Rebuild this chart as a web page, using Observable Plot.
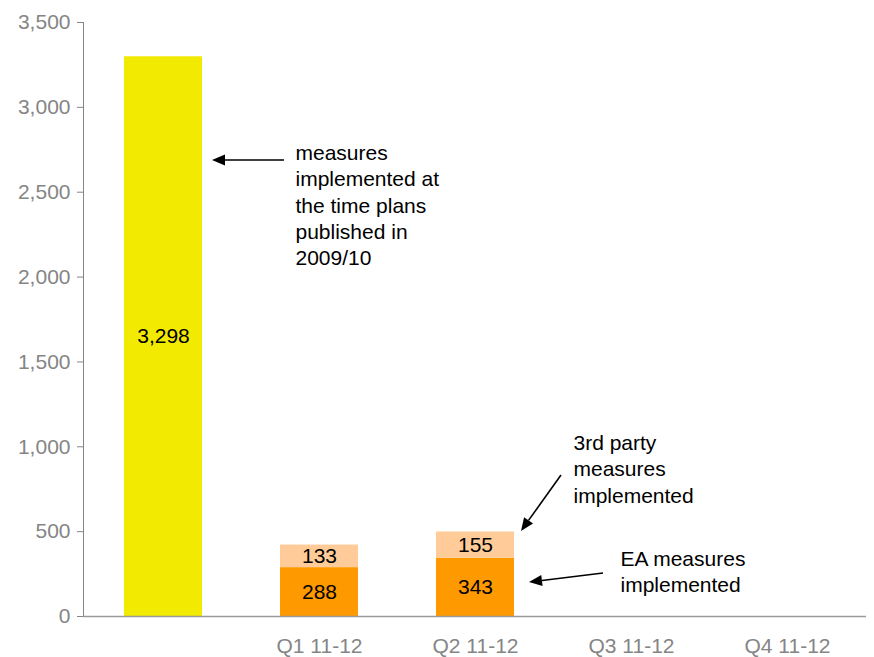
<!DOCTYPE html>
<html>
<head>
<meta charset="utf-8">
<script src="https://cdn.jsdelivr.net/npm/d3@7"></script>
<script src="https://cdn.jsdelivr.net/npm/@observablehq/plot@0.6"></script>
<style>
  html, body { margin: 0; padding: 0; background: #fff; }
  #chart svg { display: block; }
</style>
</head>
<body>
<div id="chart"></div>
<script>
// ---- data ----
const categories = ["", "Q1 11-12", "Q2 11-12", "Q3 11-12", "Q4 11-12"];
const seriesNames = ["Published plans 2009/10", "EA measures", "3rd party measures"];
const plansPublished = [3298, null, null, null, null];
const eaMeasures = [null, 288, 343, null, null];
const thirdPartyMeasures = [null, 133, 155, null, null];
const seriesColors = ["#f2ea00", "#ff9900", "#ffcc99"];
const yTicks = [0, 500, 1000, 1500, 2000, 2500, 3000, 3500];

// annotations (data units: category + pixel offset, value)
const noteTexts = [
  "measures\nimplemented at\nthe time plans\npublished in\n2009/10",
  "3rd party\nmeasures\nimplemented",
  "EA measures\nimplemented"
];
const noteCats = ["", "Q2 11-12", "Q2 11-12"];
const noteDx = [132, 98, 145];
const noteValues = [2430, 875, 271];

const arrowCats = ["", "Q2 11-12", "Q2 11-12"];
const arrowFromDx = [121, 86, 128];
const arrowFromValue = [2687, 831, 253];
const arrowToDx = [49, 46, 54];
const arrowToValue = [2687, 501, 200];

// ---- build table ----
const seriesValues = [plansPublished, eaMeasures, thirdPartyMeasures];
const rows = [];
categories.forEach((c, i) => {
  seriesValues.forEach((vals, s) => {
    if (vals[i] != null) rows.push({category: c, series: seriesNames[s], value: vals[i]});
  });
});
const notes = noteTexts.map((t, i) => ({text: t, category: noteCats[i], dx: noteDx[i], value: noteValues[i]}));

const FONT = "'Liberation Sans', Arial, Helvetica, sans-serif";

const chart = Plot.plot({
  width: 874,
  height: 657,
  marginLeft: 83,
  marginTop: 22,
  marginBottom: 41,
  marginRight: 8,
  style: {fontFamily: FONT, fontSize: "21px", color: "#858585", background: "#fff", overflow: "visible"},
  x: {domain: categories, paddingInner: 0.5, paddingOuter: 0.25, label: null, tickSize: 0, tickPadding: 22},
  y: {domain: [0, 3500], ticks: yTicks, tickFormat: d3.format(","), tickSize: 6, tickPadding: 7, line: true, label: null},
  color: {domain: seriesNames, range: seriesColors},
  marks: [
    Plot.barY(rows, Plot.stackY({x: "category", y: "value", fill: "series"})),
    Plot.ruleY([0], {stroke: "#9a9a9a", strokeWidth: 1.5}),
    Plot.text(rows, Plot.stackY({x: "category", y: "value", text: d => d3.format(",")(d.value), fill: "#000", fontSize: 21})),
    ...notes.map(n => Plot.text([n], {x: "category", y: "value", text: "text", dx: n.dx, textAnchor: "start", lineAnchor: "middle", lineHeight: 1.26, fill: "#000", fontSize: 21}))
  ]
});

document.getElementById("chart").appendChild(chart);

// ---- arrows through the chart's own scales ----
const xs = chart.scale("x");
const ys = chart.scale("y");
let xb;
if (typeof xs.apply === "function") {
  xb = c => xs.apply(c) + xs.bandwidth / 2;
} else {
  const b = d3.scaleBand().domain(xs.domain).range(xs.range)
    .paddingInner(xs.paddingInner ?? xs.padding ?? 0).paddingOuter(xs.paddingOuter ?? xs.padding ?? 0).align(xs.align ?? 0.5);
  xb = c => b(c) + b.bandwidth() / 2;
}
const yp = typeof ys.apply === "function" ? v => ys.apply(v) : d3.scaleLinear().domain(ys.domain).range(ys.range);

const svg = d3.select(chart.tagName.toLowerCase() === "svg" ? chart : chart.querySelector("svg"));
const g = svg.append("g").attr("class", "arrows");
arrowCats.forEach((c, i) => {
  const x1 = xb(c) + arrowFromDx[i], y1 = yp(arrowFromValue[i]);
  const x2 = xb(c) + arrowToDx[i], y2 = yp(arrowToValue[i]);
  const ang = Math.atan2(y2 - y1, x2 - x1);
  const L = 13, W = 5.5;
  const bx = x2 - L * Math.cos(ang), by = y2 - L * Math.sin(ang);
  g.append("line").attr("x1", x1).attr("y1", y1).attr("x2", bx).attr("y2", by)
    .attr("stroke", "#000").attr("stroke-width", 1.6);
  const px = -Math.sin(ang), py = Math.cos(ang);
  g.append("path")
    .attr("d", `M${x2},${y2}L${bx + W * px},${by + W * py}L${bx - W * px},${by - W * py}Z`)
    .attr("fill", "#000");
});
</script>
</body>
</html>
